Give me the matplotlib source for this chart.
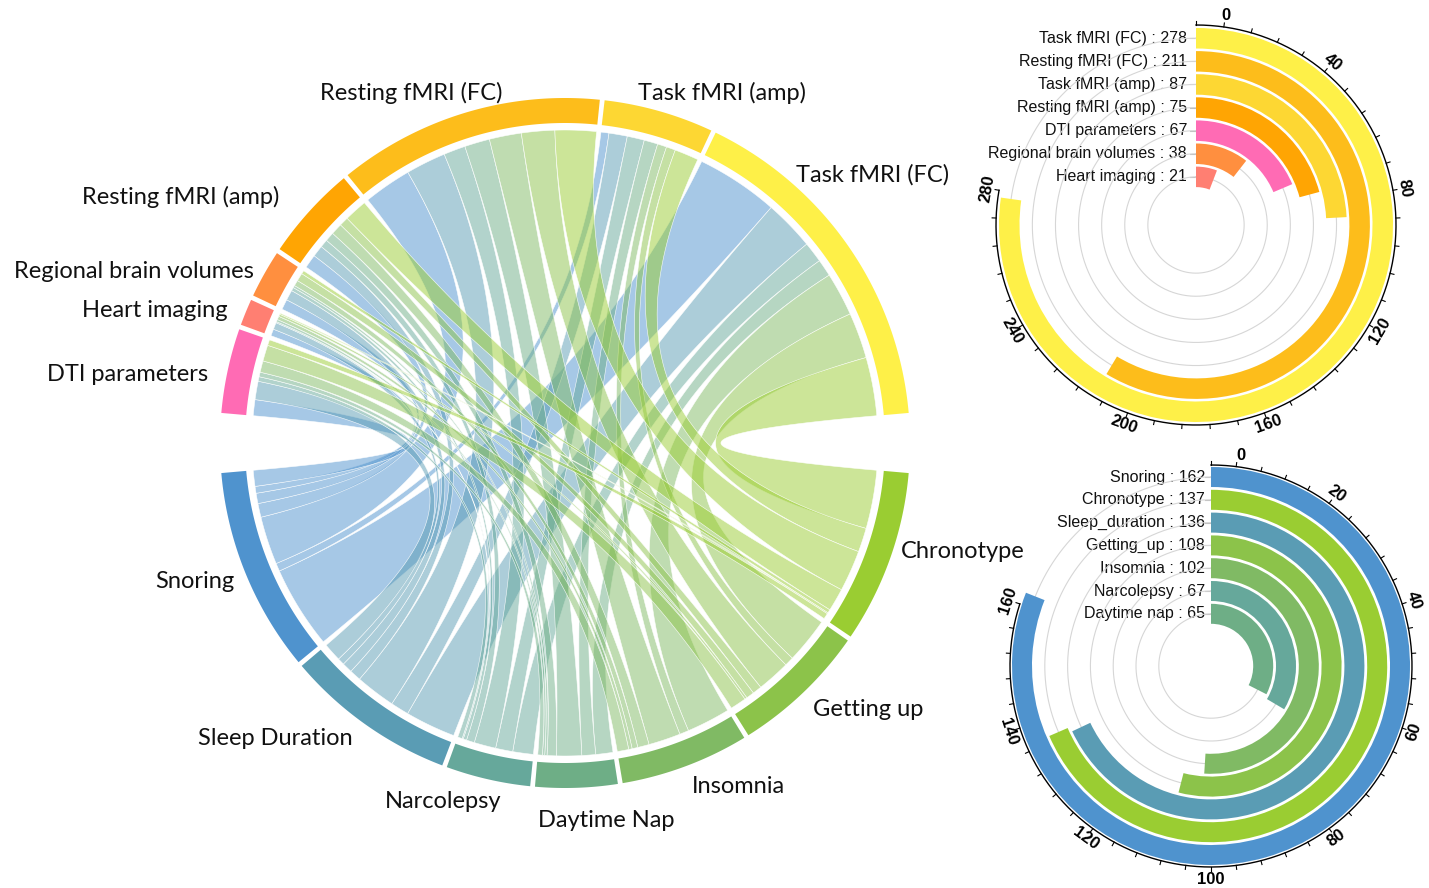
import numpy as np
import matplotlib
matplotlib.use("Agg")
import matplotlib.pyplot as plt
from matplotlib.patches import Polygon

# ---------------- data ----------------
imaging = ["Task fMRI (FC)", "Task fMRI (amp)", "Resting fMRI (FC)", "Resting fMRI (amp)",
           "Regional brain volumes", "Heart imaging", "DTI parameters"]
sleep = ["Snoring", "Sleep Duration", "Narcolepsy", "Daytime Nap", "Insomnia",
         "Getting up", "Chronotype"]

# number of associations: rows = imaging, columns = sleep traits
links = [
    [72, 44, 18, 15, 38, 40, 51],   # Task fMRI (FC)
    [7, 16, 15, 12, 8, 8, 21],      # Task fMRI (amp)
    [42, 35, 19, 22, 28, 29, 36],   # Resting fMRI (FC)
    [12, 10, 7, 8, 10, 8, 20],      # Resting fMRI (amp)
    [9, 9, 3, 2, 5, 7, 3],          # Regional brain volumes
    [6, 6, 1, 2, 3, 2, 1],          # Heart imaging
    [14, 16, 4, 4, 10, 14, 5],      # DTI parameters
]

imaging_colors = ["#FEF048", "#FDD733", "#FDBD1B", "#FFA503", "#FF8F3F", "#FF7F72", "#FF6BB4"]
sleep_colors = ["#4F93CE", "#5A9CB4", "#66A89B", "#6EAE86", "#80BA64", "#8CC34A", "#9ACD32"]

img_bar_labels = ["Task fMRI (FC)", "Resting fMRI (FC)", "Task fMRI (amp)", "Resting fMRI (amp)",
                  "DTI parameters", "Regional brain volumes", "Heart imaging"]
img_bar_values = [278, 211, 87, 75, 67, 38, 21]
img_bar_colors = ["#FEF048", "#FDBD1B", "#FDD733", "#FFA503", "#FF6BB4", "#FF8F3F", "#FF7F72"]

slp_bar_labels = ["Snoring", "Chronotype", "Sleep_duration", "Getting_up", "Insomnia",
                  "Narcolepsy", "Daytime nap"]
slp_bar_values = [162, 137, 136, 108, 102, 67, 65]
slp_bar_colors = ["#4F93CE", "#9ACD32", "#5A9CB4", "#8CC34A", "#80BA64", "#66A89B", "#6EAE86"]

# ---------------- figure ----------------
W, H = 1429, 888
fig = plt.figure(figsize=(W / 100, H / 100), dpi=100)
ax = fig.add_axes([0, 0, 1, 1])
ax.set_xlim(0, W)
ax.set_ylim(H, 0)
ax.axis("off")

# chord layout (pixel space)
CX, CY = 565, 443
R_OUT, R_IN, R_CH = 345, 320, 313
PAD = 0.8
links = np.array(links, dtype=float)
img_tot = links.sum(axis=1)
slp_tot = links.sum(axis=0)
unit = (170 - 6 * PAD) / img_tot.sum()


def pt(th, r):
    t = np.deg2rad(th)
    return np.column_stack([CX + r * np.cos(t), CY - r * np.sin(t)])


def arc(a0, a1, r, n=None):
    if n is None:
        n = max(4, int(abs(a1 - a0) * 3))
    return pt(np.linspace(a0, a1, n), np.full(n, r))


def bez(p0, p2, n=60):
    t = np.linspace(0, 1, n)[:, None]
    c = np.array([CX, CY])
    return (1 - t) ** 2 * p0 + 2 * (1 - t) * t * c + t ** 2 * p2


# group angle ranges
img_rng, a = [], 5.0
for v in img_tot:
    img_rng.append((a, a + v * unit))
    a += v * unit + PAD
slp_rng, a = [], 185.0
for v in slp_tot:
    slp_rng.append((a, a + v * unit))
    a += v * unit + PAD

# sub-ranges for each link
src_sub = {}
for i in range(len(imaging)):
    a = img_rng[i][0]
    for j in reversed(range(len(sleep))):
        w = links[i, j] * unit
        src_sub[(i, j)] = (a, a + w)
        a += w
tgt_sub = {}
for j in range(len(sleep)):
    a = slp_rng[j][0]
    for i in reversed(range(len(imaging))):
        w = links[i, j] * unit
        tgt_sub[(i, j)] = (a, a + w)
        a += w

# ribbons
for i in range(len(imaging)):
    for j in range(len(sleep)):
        if links[i, j] <= 0:
            continue
        s0, s1 = src_sub[(i, j)]
        t0, t1 = tgt_sub[(i, j)]
        A = arc(s0, s1, R_CH)
        B = bez(A[-1], pt(t0, R_CH)[0])
        C = arc(t0, t1, R_CH)
        D = bez(C[-1], A[0])
        poly = np.vstack([A, B, C, D])
        ax.add_patch(Polygon(poly, closed=True, facecolor=sleep_colors[j], alpha=0.5,
                             edgecolor="none", zorder=2))
        ax.add_patch(Polygon(poly, closed=True, facecolor="none", edgecolor="white",
                             lw=0.4, alpha=0.9, zorder=2))

# ring sectors
for rng, col in list(zip(img_rng, imaging_colors)) + list(zip(slp_rng, sleep_colors)):
    poly = np.vstack([arc(rng[0], rng[1], R_OUT), arc(rng[1], rng[0], R_IN)])
    ax.add_patch(Polygon(poly, closed=True, facecolor=col, edgecolor="none", zorder=3))

# chord labels (manual placement as in original)
label_pos = {
    "Resting fMRI (FC)": (411, 100), "Task fMRI (amp)": (722, 100), "Task fMRI (FC)": (873, 182),
    "Resting fMRI (amp)": (181, 204), "Regional brain volumes": (134, 278),
    "Heart imaging": (155, 317), "DTI parameters": (128, 381),
    "Snoring": (195, 588), "Sleep Duration": (275, 745), "Narcolepsy": (443, 808),
    "Daytime Nap": (606, 827), "Insomnia": (738, 793), "Getting up": (868, 716),
    "Chronotype": (963, 558),
}
for name, (x, y) in label_pos.items():
    ax.text(x, y, name, ha="center", va="baseline", fontsize=17,
            family=["Lato", "DejaVu Sans"], color="#111111", zorder=5)


# ---------------- radial bar charts ----------------
def radial(cx, cy, labels, values, colors, dpu, tick_step, label_step, axis_max,
           r_outer, step, thick, axis_r, text_dx):
    Rb = 235
    pax = fig.add_axes([(cx - Rb) / W, (H - cy - Rb) / H, 2 * Rb / W, 2 * Rb / H],
                       projection="polar")
    pax.set_theta_zero_location("N")
    pax.set_theta_direction(-1)
    pax.set_ylim(0, Rb)
    pax.axis("off")
    th_full = np.linspace(0, 2 * np.pi, 400)
    for k, (lab, v, c) in enumerate(zip(labels, values, colors)):
        r_top = r_outer - k * step
        rc = r_top - thick / 2
        pax.plot(th_full, np.full_like(th_full, rc), color="#d6d6d6", lw=0.8, zorder=1)
        pax.bar(0, thick, width=np.deg2rad(v * dpu), bottom=r_top - thick, align="edge",
                color=c, edgecolor="none", zorder=2)
        ax.plot([cx - 6, cx], [cy - rc, cy - rc], color="#bbbbbb", lw=0.8, zorder=4)
        ax.text(cx - text_dx, cy - rc, f"{lab} : {v}", ha="right", va="center",
                fontsize=11.5, family=["Liberation Sans", "DejaVu Sans"], color="#111111",
                zorder=5)
    th_ax = np.linspace(0, np.deg2rad(axis_max * dpu), 400)
    pax.plot(th_ax, np.full_like(th_ax, axis_r), color="black", lw=1.0, zorder=3, clip_on=False)
    for v in np.arange(0, axis_max + 1e-9, tick_step):
        t = np.deg2rad(v * dpu)
        pax.plot([t, t], [axis_r, axis_r + 4], color="black", lw=0.8, zorder=3, clip_on=False)
    for v in range(0, axis_max + 1, label_step):
        ang = v * dpu
        pos = max(ang, 8.0)
        rot = -ang
        if 90 < ang < 270:
            rot += 180
        pax.text(np.deg2rad(pos), axis_r + 12, str(v), rotation=rot, rotation_mode="anchor",
                 ha="center", va="center", fontsize=12, fontweight="bold",
                 family=["Liberation Sans", "DejaVu Sans"], zorder=4, clip_on=False)


radial(1196, 225, img_bar_labels, img_bar_values, img_bar_colors, 1.0, 8, 40, 280,
       197, 23.1, 20.5, 200, 9)
radial(1211, 666, slp_bar_labels, slp_bar_values, slp_bar_colors, 1.8, 4, 20, 160,
       199, 22.8, 20.0, 201, 6)

fig.savefig("out.png", dpi=100)
